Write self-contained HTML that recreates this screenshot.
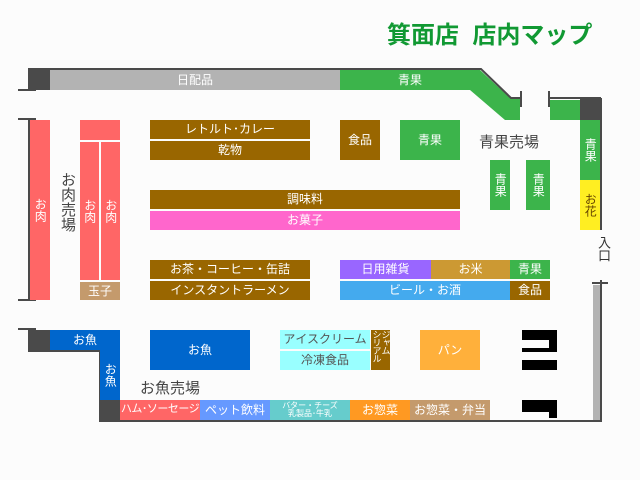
<!DOCTYPE html>
<html><head><meta charset="utf-8"><style>
body{margin:0;width:640px;height:480px;background:#fcfcfc;position:relative;overflow:hidden;font-family:"Liberation Sans","Noto Sans CJK JP",sans-serif}
.b{position:absolute;color:#fff;font-size:12px;display:flex;align-items:center;justify-content:center;text-align:center;line-height:1.05;white-space:nowrap}
.v{writing-mode:vertical-rl}
.t{position:absolute;color:#444;font-size:14px;white-space:nowrap}
.br{background:#996600}.gr{background:#3cb44b}.rd{background:#ff6666}.bl{background:#0066cc}.dk{background:#4a4a4a}
</style></head><body>
<div style="position:absolute;left:387px;top:15px;font-size:24px;font-weight:bold;color:#119933;letter-spacing:0px">箕面店&nbsp;&nbsp;店内マップ</div>
<svg width="640" height="480" style="position:absolute;left:0;top:0">
<polygon points="340,70 480,70 510,98 520,98 520,120 505,120 470,90 340,90" fill="#3cb44b"/>
<polyline points="28,69 481,69 511,98 521,98" fill="none" stroke="#4a4a4a" stroke-width="2"/>
<line x1="550" y1="98" x2="601" y2="98" stroke="#4a4a4a" stroke-width="2"/>
<line x1="521" y1="91" x2="521" y2="107" stroke="#4a4a4a" stroke-width="2"/>
<line x1="549" y1="91" x2="549" y2="107" stroke="#4a4a4a" stroke-width="2"/>
<line x1="29" y1="118" x2="29" y2="300" stroke="#4a4a4a" stroke-width="2"/>
<line x1="18" y1="90" x2="36" y2="90" stroke="#4a4a4a" stroke-width="2"/>
<line x1="18" y1="119" x2="36" y2="119" stroke="#4a4a4a" stroke-width="2"/>
<line x1="18" y1="300" x2="36" y2="300" stroke="#4a4a4a" stroke-width="2"/>
<line x1="18" y1="329" x2="36" y2="329" stroke="#4a4a4a" stroke-width="2"/>
<polyline points="29,329 29,351 100,351 100,421 601,421 601,280" fill="none" stroke="#4a4a4a" stroke-width="2"/>
<line x1="592" y1="283" x2="608" y2="283" stroke="#4a4a4a" stroke-width="2"/>
<line x1="601" y1="230" x2="601" y2="120" stroke="#4a4a4a" stroke-width="2"/>
</svg>
<div class="b dk" style="left:28px;top:70px;width:22px;height:20px"></div>
<div class="b" style="left:50px;top:70px;width:290px;height:20px;background:#b3b3b3">日配品</div>
<div class="b" style="left:340px;top:70px;width:140px;height:20px">青果</div>
<div class="b gr" style="left:550px;top:100px;width:30px;height:20px"></div>
<div class="b dk" style="left:580px;top:98px;width:22px;height:22px"></div>
<div class="b gr v" style="left:580px;top:120px;width:20px;height:60px">青果</div>
<div class="b v" style="left:580px;top:180px;width:20px;height:50px;background:#ffee22;color:#664400">お花</div>
<div class="t v" style="left:594px;top:236px;font-size:13px;color:#333">入口</div>
<div class="b" style="left:593px;top:285px;width:7px;height:135px;background:#b3b3b3"></div>

<div class="b rd v" style="left:30px;top:120px;width:20px;height:180px">お肉</div>
<div class="t v" style="left:57px;top:172px;font-size:15px">お肉売場</div>
<div class="b rd" style="left:80px;top:120px;width:40px;height:20px"></div>
<div class="b rd v" style="left:80px;top:142px;width:19px;height:138px">お肉</div>
<div class="b rd v" style="left:101px;top:142px;width:19px;height:138px">お肉</div>
<div class="b" style="left:80px;top:282px;width:40px;height:18px;background:#c49a6c">玉子</div>

<div class="b br" style="left:150px;top:120px;width:160px;height:19px">レトルト･カレー</div>
<div class="b br" style="left:150px;top:141px;width:160px;height:19px">乾物</div>
<div class="b br" style="left:340px;top:120px;width:40px;height:40px">食品</div>
<div class="b gr" style="left:400px;top:120px;width:60px;height:40px">青果</div>
<div class="t" style="left:479px;top:131px;font-size:15px">青果売場</div>
<div class="b gr v" style="left:490px;top:160px;width:20px;height:50px">青果</div>
<div class="b gr v" style="left:526px;top:160px;width:24px;height:50px">青果</div>

<div class="b br" style="left:150px;top:190px;width:310px;height:19px">調味料</div>
<div class="b" style="left:150px;top:211px;width:310px;height:19px;background:#ff66cc">お菓子</div>

<div class="b br" style="left:150px;top:260px;width:160px;height:19px">お茶・コーヒー・缶詰</div>
<div class="b br" style="left:150px;top:281px;width:160px;height:19px">インスタントラーメン</div>
<div class="b" style="left:340px;top:260px;width:91px;height:19px;background:#9966ff">日用雑貨</div>
<div class="b" style="left:431px;top:260px;width:79px;height:19px;background:#cc9933">お米</div>
<div class="b gr" style="left:510px;top:260px;width:40px;height:19px">青果</div>
<div class="b" style="left:340px;top:281px;width:170px;height:19px;background:#44aaee">ビール・お酒</div>
<div class="b br" style="left:510px;top:281px;width:40px;height:19px">食品</div>

<div class="b dk" style="left:28px;top:330px;width:22px;height:20px"></div>
<div class="b bl" style="left:50px;top:330px;width:70px;height:20px">お魚</div>
<div class="b bl v" style="left:100px;top:350px;width:20px;height:50px">お魚</div>
<div class="b dk" style="left:100px;top:400px;width:20px;height:20px"></div>
<div class="b bl" style="left:150px;top:330px;width:100px;height:40px">お魚</div>
<div class="t" style="left:140px;top:377px;font-size:15px">お魚売場</div>
<div class="b" style="left:280px;top:330px;width:90px;height:19px;background:#99ffff;color:#555">アイスクリーム</div>
<div class="b" style="left:280px;top:351px;width:90px;height:19px;background:#99ffff;color:#555">冷凍食品</div>
<div class="b br" style="left:371px;top:330px;width:19px;height:40px;overflow:hidden">
<div style="writing-mode:vertical-rl;font-size:9px;line-height:9px;letter-spacing:-1px;text-align:left;height:40px">ジャム<br>シリアル</div></div>
<div class="b" style="left:420px;top:330px;width:60px;height:40px;background:#ffb03b">パン</div>
<svg width="640" height="480" style="position:absolute;left:0;top:0">
<polygon points="522,330 557,330 557,370 522,370 522,360 557,360 557,352 522,352 522,348 549,348 549,340 522,340" fill="#000"/>
<polygon points="522,400 557,400 557,418 549,418 549,412 522,412" fill="#000"/>
</svg>
<div class="b rd" style="left:120px;top:400px;width:80px;height:20px;font-size:11px;letter-spacing:-0.5px">ハム･ソーセージ</div>
<div class="b" style="left:200px;top:400px;width:70px;height:20px;background:#6699ff">ペット飲料</div>
<div class="b" style="left:270px;top:400px;width:80px;height:20px;background:#66cccc;font-size:8px">バター・チーズ<br>乳製品･牛乳</div>
<div class="b" style="left:350px;top:400px;width:60px;height:20px;background:#ff9922">お惣菜</div>
<div class="b" style="left:410px;top:400px;width:80px;height:20px;background:#c49a6c">お惣菜・弁当</div>
</body></html>
